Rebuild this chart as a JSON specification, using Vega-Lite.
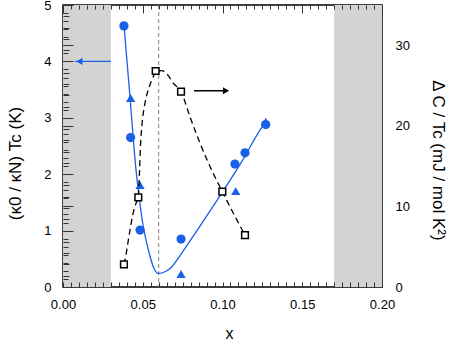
{
  "$schema": "https://vega.github.io/schema/vega-lite/v6.json",
  "width": 319,
  "height": 282,
  "autosize": {"type": "none"},
  "padding": {"left": 63, "top": 5, "right": 81, "bottom": 55},
  "config": {
    "view": {"stroke": "black", "strokeWidth": 1.5},
    "font": "Liberation Sans",
    "axis": {
      "ticks": false,
      "domain": false,
      "gridColor": "#333333",
      "gridOpacity": 1,
      "gridWidth": 1,
      "gridCap": "butt",
      "labelFont": "Liberation Sans",
      "labelFontSize": 13,
      "labelColor": "black",
      "labelFlush": false,
      "labelOverlap": false,
      "titleFont": "Liberation Sans",
      "titleFontWeight": "normal",
      "titleColor": "black",
      "titleFontSize": 17,
      "titleAlign": "center",
      "titleBaseline": "middle"
    }
  },
  "datasets": {
    "shade": [{"x1": 0, "x2": 0.03}, {"x1": 0.17, "x2": 0.2}],
    "vline": [{"x": 0.06}],
    "fit": [
      {"x": 0.0382, "y": 4.65}, {"x": 0.0401, "y": 4.01}, {"x": 0.042, "y": 3.37},
      {"x": 0.0441, "y": 2.61}, {"x": 0.0458, "y": 2.07}, {"x": 0.0472, "y": 1.72},
      {"x": 0.05, "y": 1.13}, {"x": 0.0535, "y": 0.66}, {"x": 0.0566, "y": 0.36},
      {"x": 0.0597, "y": 0.24}, {"x": 0.0646, "y": 0.28}, {"x": 0.0683, "y": 0.36},
      {"x": 0.0715, "y": 0.48}, {"x": 0.0754, "y": 0.64}, {"x": 0.0859, "y": 1.08},
      {"x": 0.1001, "y": 1.69}, {"x": 0.1116, "y": 2.2}, {"x": 0.1235, "y": 2.78},
      {"x": 0.1273, "y": 2.94}
    ],
    "tc": [
      {"x": 0.0382, "y": 4.63, "s": "c"},
      {"x": 0.0424, "y": 2.65, "s": "c"},
      {"x": 0.0483, "y": 1.01, "s": "c"},
      {"x": 0.074, "y": 0.85, "s": "c"},
      {"x": 0.1078, "y": 2.18, "s": "c"},
      {"x": 0.1141, "y": 2.38, "s": "c"},
      {"x": 0.1271, "y": 2.88, "s": "c"},
      {"x": 0.0424, "y": 3.35, "s": "t"},
      {"x": 0.0483, "y": 1.81, "s": "t"},
      {"x": 0.074, "y": 0.23, "s": "t"},
      {"x": 0.1083, "y": 1.7, "s": "t"},
      {"x": 0.1271, "y": 2.93, "s": "t"}
    ],
    "blueArrow": [{"x": 0.0075, "y": 4}, {"x": 0.03, "y": 4}],
    "blueHead": [{"x": 0.0103, "y": 4}],
    "dcfit": [
      {"x": 0.0382, "y": 2.82}, {"x": 0.0395, "y": 3.97}, {"x": 0.0403, "y": 5.0},
      {"x": 0.042, "y": 7.07}, {"x": 0.0437, "y": 8.94}, {"x": 0.0458, "y": 10.39},
      {"x": 0.0472, "y": 11.13}, {"x": 0.048, "y": 14.52}, {"x": 0.0486, "y": 17.62},
      {"x": 0.0495, "y": 20.11}, {"x": 0.0514, "y": 22.8}, {"x": 0.0541, "y": 24.86},
      {"x": 0.0566, "y": 26.1}, {"x": 0.0581, "y": 26.81}, {"x": 0.0619, "y": 26.85},
      {"x": 0.0652, "y": 26.44}, {"x": 0.0692, "y": 25.28}, {"x": 0.074, "y": 24.24},
      {"x": 0.0796, "y": 21.14}, {"x": 0.0859, "y": 17.84}, {"x": 0.0932, "y": 14.52},
      {"x": 0.0999, "y": 11.83}, {"x": 0.1068, "y": 9.15}, {"x": 0.1141, "y": 6.45}
    ],
    "dc": [
      {"x": 0.0382, "y": 2.82}, {"x": 0.0472, "y": 11.13}, {"x": 0.0581, "y": 26.81},
      {"x": 0.074, "y": 24.24}, {"x": 0.0999, "y": 11.83}, {"x": 0.1141, "y": 6.45}
    ],
    "blackArrow": [{"x": 0.0821, "y": 24.36}, {"x": 0.1025, "y": 24.36}],
    "blackHead": [{"x": 0.1022, "y": 24.36}]
  },
  "layer": [
    {
      "layer": [
        {
          "data": {"name": "shade"},
          "mark": {"type": "rect", "color": "#d3d3d3"},
          "encoding": {
            "x": {
              "field": "x1", "type": "quantitative",
              "scale": {"domain": [0, 0.2], "nice": false, "zero": false},
              "axis": {
                "orient": "bottom",
                "values": [0, 0.05, 0.1, 0.15, 0.2],
                "format": ".2f",
                "grid": false,
                "labelPadding": 11,
                "title": "x",
                "titleFontSize": 16,
                "titleX": 166,
                "titleY": 46
              }
            },
            "x2": {"field": "x2"}
          }
        },
        {
          "data": {"name": "vline"},
          "mark": {"type": "rule", "color": "#808080", "strokeDash": [4, 3], "strokeWidth": 1},
          "encoding": {
            "x": {"field": "x", "type": "quantitative", "axis": null}
          }
        },
        {
          "data": {"name": "fit"},
          "mark": {"type": "line", "color": "#1a5fe8", "strokeWidth": 1.3, "interpolate": "monotone"},
          "encoding": {
            "x": {
              "field": "x", "type": "quantitative",
              "axis": {
                "orient": "bottom",
                "values": [0, 0.05, 0.1, 0.15, 0.2],
                "labels": false,
                "grid": true,
                "gridDash": [8, 1000],
                "zindex": 1,
                "title": null
              }
            },
            "y": {
              "field": "y", "type": "quantitative",
              "scale": {"domain": [0, 5], "nice": false},
              "axis": {
                "orient": "left",
                "values": [0, 1, 2, 3, 4, 5],
                "format": "d",
                "grid": true,
                "gridDash": [10, 1000],
                "zindex": 1,
                "labelPadding": 12,
                "title": "(κ0 / κN) Tc (K)",
                "titleAngle": 270,
                "titleX": -48,
                "titleY": 158
              }
            }
          }
        },
        {
          "data": {"name": "tc"},
          "mark": {"type": "point", "filled": true, "color": "#1a5fe8", "opacity": 1, "size": 85},
          "encoding": {
            "x": {
              "field": "x", "type": "quantitative",
              "axis": {
                "orient": "bottom",
                "values": [0,0.005,0.01,0.015,0.02,0.025,0.03,0.035,0.04,0.045,0.05,0.055,0.06,0.065,0.07,0.075,0.08,0.085,0.09,0.095,0.1,0.105,0.11,0.115,0.12,0.125,0.13,0.135,0.14,0.145,0.15,0.155,0.16,0.165,0.17,0.175,0.18,0.185,0.19,0.195,0.2],
                "labels": false,
                "grid": true,
                "gridDash": [4, 273, 5, 1000],
                "zindex": 1,
                "title": null
              }
            },
            "y": {
              "field": "y", "type": "quantitative",
              "axis": {
                "orient": "left",
                "values": [0,0.2,0.4,0.6,0.8,1,1.2,1.4,1.6,1.8,2,2.2,2.4,2.6,2.8,3,3.2,3.4,3.6,3.8,4,4.2,4.4,4.6,4.8,5],
                "labels": false,
                "grid": true,
                "gridDash": [6, 1000],
                "zindex": 1,
                "title": null
              }
            },
            "shape": {
              "field": "s", "type": "nominal",
              "scale": {"domain": ["c", "t"], "range": ["circle", "triangle-up"]},
              "legend": null
            }
          }
        },
        {
          "data": {"name": "blueArrow"},
          "mark": {"type": "line", "color": "#1a5fe8", "strokeWidth": 1.3},
          "encoding": {
            "x": {"field": "x", "type": "quantitative", "axis": null},
            "y": {"field": "y", "type": "quantitative", "axis": null}
          }
        },
        {
          "data": {"name": "blueHead"},
          "mark": {"type": "point", "shape": "triangle-left", "filled": true, "color": "#1a5fe8", "opacity": 1, "size": 50},
          "encoding": {
            "x": {"field": "x", "type": "quantitative", "axis": null},
            "y": {"field": "y", "type": "quantitative", "axis": null}
          }
        }
      ],
      "resolve": {"axis": {"x": "independent", "y": "independent"}}
    },
    {
      "layer": [
        {
          "data": {"name": "dcfit"},
          "mark": {"type": "line", "color": "black", "strokeWidth": 1.3, "strokeDash": [6, 4], "interpolate": "monotone"},
          "encoding": {
            "x": {"field": "x", "type": "quantitative", "axis": null},
            "y": {
              "field": "y", "type": "quantitative",
              "scale": {"domain": [0, 35], "nice": false},
              "axis": {
                "orient": "right",
                "values": [0, 10, 20, 30],
                "format": "d",
                "grid": true,
                "gridDash": [0, 309, 10, 1000],
                "zindex": 1,
                "labelPadding": 13,
                "title": "Δ C / Tc (mJ / mol K²)",
                "titleAngle": 90,
                "titleX": 55,
                "titleY": 155
              }
            }
          }
        },
        {
          "data": {"name": "dc"},
          "mark": {"type": "point", "shape": "square", "fill": "white", "stroke": "black", "strokeWidth": 1.5, "opacity": 1, "size": 45},
          "encoding": {
            "x": {"field": "x", "type": "quantitative", "axis": null},
            "y": {
              "field": "y", "type": "quantitative",
              "axis": {
                "orient": "right",
                "values": [0,1,2,3,4,5,6,7,8,9,10,11,12,13,14,15,16,17,18,19,20,21,22,23,24,25,26,27,28,29,30,31,32,33,34,35],
                "labels": false,
                "grid": true,
                "gridDash": [0, 314, 5, 1000],
                "zindex": 1,
                "title": null
              }
            }
          }
        },
        {
          "data": {"name": "blackArrow"},
          "mark": {"type": "line", "color": "black", "strokeWidth": 1.3},
          "encoding": {
            "x": {"field": "x", "type": "quantitative", "axis": null},
            "y": {"field": "y", "type": "quantitative", "axis": null}
          }
        },
        {
          "data": {"name": "blackHead"},
          "mark": {"type": "point", "shape": "triangle-right", "filled": true, "color": "black", "opacity": 1, "size": 50},
          "encoding": {
            "x": {"field": "x", "type": "quantitative", "axis": null},
            "y": {"field": "y", "type": "quantitative", "axis": null}
          }
        }
      ],
      "resolve": {"axis": {"x": "independent", "y": "independent"}}
    }
  ],
  "resolve": {"scale": {"y": "independent"}, "axis": {"x": "independent", "y": "independent"}}
}
